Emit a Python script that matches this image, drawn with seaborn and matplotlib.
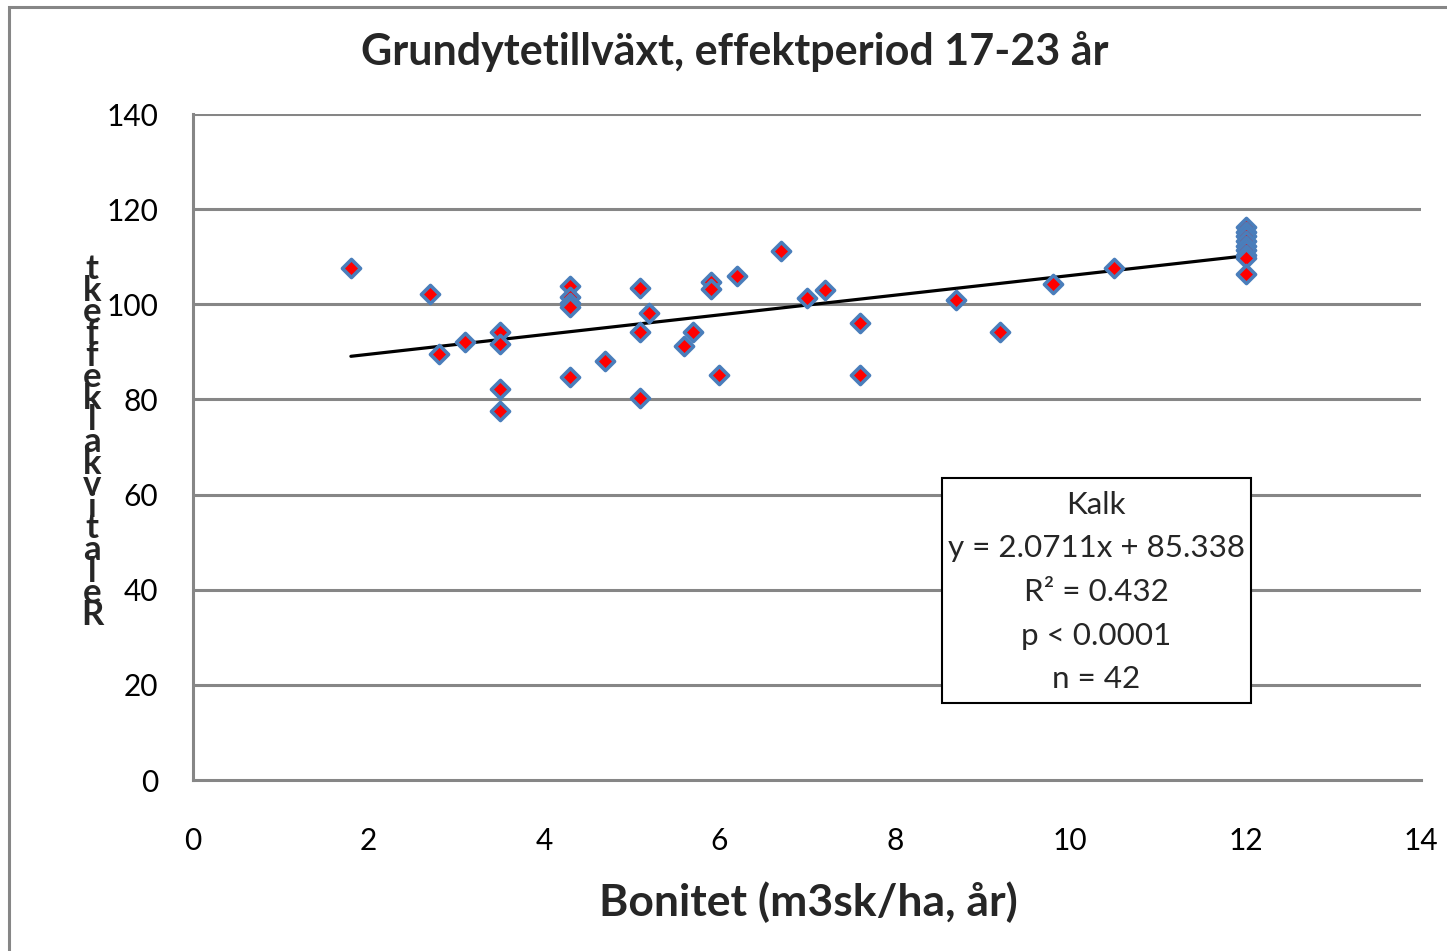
import numpy as np
import pandas as pd
import matplotlib
matplotlib.use("Agg")
import matplotlib.pyplot as plt
import seaborn as sns
from matplotlib.patches import Rectangle

# ---- data ----
bonitet = [1.8, 2.7, 2.8, 3.1, 3.5, 3.5, 3.5, 3.5,
           4.3, 4.3, 4.3, 4.3, 4.3, 4.7, 5.1, 5.1, 5.1, 5.2,
           5.6, 5.7, 5.9, 5.9, 6.0, 6.2, 6.7, 7.0, 7.2, 7.6, 7.6,
           8.7, 9.2, 9.8, 10.5,
           12, 12, 12, 12, 12, 12, 12, 12, 12]
effekt = [107.6, 102.2, 89.6, 92.1, 94.2, 91.7, 82.2, 77.6,
          103.8, 101.5, 100.3, 99.4, 84.7, 88.1, 103.4, 94.2, 80.3, 98.2,
          91.2, 94.2, 104.7, 103.2, 85.1, 106.0, 111.2, 101.3, 103.0, 96.1, 85.1,
          100.9, 94.2, 104.3, 107.6,
          116.2, 115.3, 114.4, 113.4, 112.3, 111.5, 110.3, 109.8, 106.4]
slope = 2.0711
intercept = 85.338
x_ticks = [0, 2, 4, 6, 8, 10, 12, 14]
y_ticks = [0, 20, 40, 60, 80, 100, 120, 140]
title = "Grundytetillväxt, effektperiod 17-23 år"
xlabel = "Bonitet (m3sk/ha, år)"
ylabel = "Relativ kalkeffekt"
box_lines = ["Kalk", "y = 2.0711x + 85.338", "R² = 0.432", "p < 0.0001", "n = 42"]

df = pd.DataFrame({"x": bonitet, "y": effekt})

sns.set_style("white")
plt.rcParams["font.family"] = ["Lato", "DejaVu Sans"]

W, H = 1447, 951
fig = plt.figure(figsize=(W / 100, H / 100), dpi=100)
ax = fig.add_axes([193 / W, 1 - 780 / H, (1421 - 193) / W, (780 - 114) / H])

grid_c = "#868686"
for yv in y_ticks[1:]:
    ax.axhline(yv, color=grid_c, lw=2.2, zorder=0)

sns.scatterplot(data=df, x="x", y="y", ax=ax, marker="D", s=85,
                color="red", edgecolor="#4a7ebb", linewidth=2.6, zorder=3)

xs = np.array([min(bonitet), max(bonitet)])
ax.plot(xs, slope * xs + intercept, color="black", lw=2.3, zorder=2)

ax.set_xlim(0, 14)
ax.set_ylim(0, 140)
ax.set_xticks(x_ticks)
ax.set_yticks(y_ticks)
ax.tick_params(axis="both", length=0, labelsize=21.5, colors="black")
ax.tick_params(axis="x", pad=34)
ax.tick_params(axis="y", pad=25)
for s in ["top", "right"]:
    ax.spines[s].set_visible(False)
for s in ["left", "bottom"]:
    ax.spines[s].set_color(grid_c)
    ax.spines[s].set_linewidth(2.2)
ax.set_xlabel("")
ax.set_ylabel("")

fig.text(735 / W, 1 - 52 / H, title, ha="center", va="center",
         fontsize=31, fontweight="bold")
fig.text(808 / W, 1 - 902 / H, xlabel, ha="center", va="center",
         fontsize=32, fontweight="bold")

# stacked vertical y label (letters stacked, read bottom to top), one text object
stacked = "\n".join(reversed([c for c in ylabel if c != " "]))
fig.text(92 / W, 1 - 442 / H, stacked, ha="center", va="center",
         fontsize=25, fontweight="bold", linespacing=0.6, multialignment="center")

# annotation box
bx0, by0, bx1, by1 = 942, 478, 1251, 703
fig.patches.append(Rectangle((bx0 / W, 1 - by1 / H), (bx1 - bx0) / W, (by1 - by0) / H,
                             transform=fig.transFigure, facecolor="white",
                             edgecolor="black", lw=1.5, zorder=5))
for i, line in enumerate(box_lines):
    yy = 505 + 43.5 * i
    fig.text(1096 / W, 1 - yy / H, line, ha="center", va="center",
             fontsize=22.6, zorder=6)

# outer chart border
fig.patches.append(Rectangle((9 / W, -0.05), 1.2, 1 - 7 / H + 0.05,
                             transform=fig.transFigure, facecolor="none",
                             edgecolor="#868686", lw=2.2))

fig.savefig("out.png", dpi=100)
